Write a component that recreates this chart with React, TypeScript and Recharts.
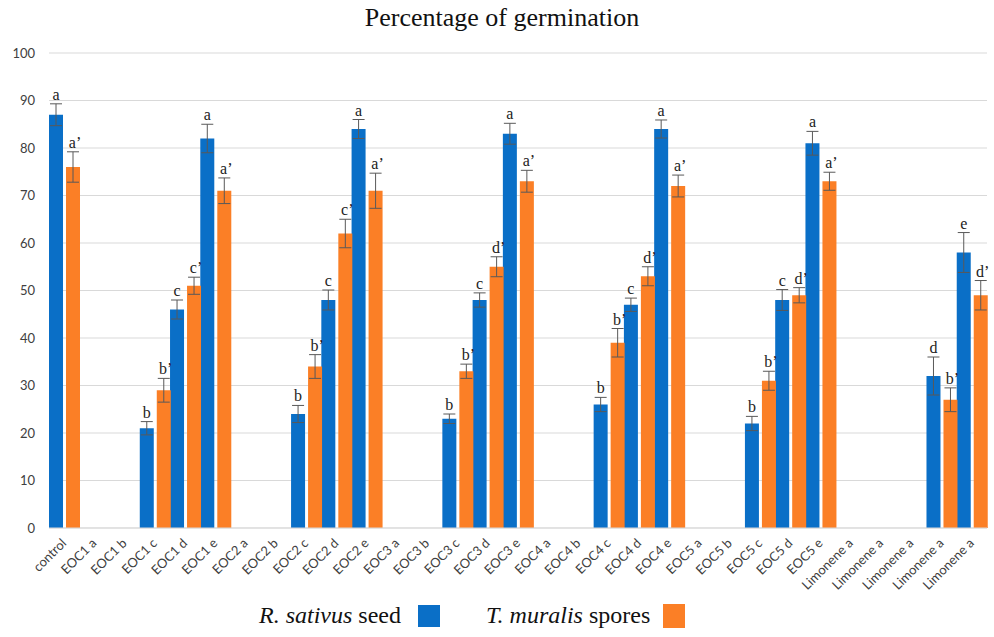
import React from 'react';
import { BarChart, Bar, XAxis, YAxis, CartesianGrid, ErrorBar, LabelList } from 'recharts';

const categories = [
  'control',
  'EOC1 a', 'EOC1 b', 'EOC1 c', 'EOC1 d', 'EOC1 e',
  'EOC2 a', 'EOC2 b', 'EOC2 c', 'EOC2 d', 'EOC2 e',
  'EOC3 a', 'EOC3 b', 'EOC3 c', 'EOC3 d', 'EOC3 e',
  'EOC4 a', 'EOC4 b', 'EOC4 c', 'EOC4 d', 'EOC4 e',
  'EOC5 a', 'EOC5 b', 'EOC5 c', 'EOC5 d', 'EOC5 e',
  'Limonene a', 'Limonene a', 'Limonene a', 'Limonene a', 'Limonene a',
];

// R. sativus seed
const sativusValues = [
  87, null, null, 21, 46, 82, null, null, 24, 48, 84, null, null, 23, 48, 83,
  null, null, 26, 47, 84, null, null, 22, 48, 81, null, null, null, 32, 58,
];
const sativusErrors = [
  2.3, null, null, 1.4, 2, 3, null, null, 1.8, 2.1, 2, null, null, 1, 1.5, 2.2,
  null, null, 1.5, 1.4, 1.9, null, null, 1.5, 2.2, 2.5, null, null, null, 4, 4.2,
];
const sativusLetters = [
  'a', '', '', 'b', 'c', 'a', '', '', 'b', 'c', 'a', '', '', 'b', 'c', 'a',
  '', '', 'b', 'c', 'a', '', '', 'b', 'c', 'a', '', '', '', 'd', 'e',
];

// T. muralis spores
const muralisValues = [
  76, null, null, 29, 51, 71, null, null, 34, 62, 71, null, null, 33, 55, 73,
  null, null, 39, 53, 72, null, null, 31, 49, 73, null, null, null, 27, 49,
];
const muralisErrors = [
  3.2, null, null, 2.5, 1.8, 2.7, null, null, 2.5, 3, 3.7, null, null, 1.5, 2.1, 2.3,
  null, null, 3, 2, 2.3, null, null, 2, 1.6, 1.9, null, null, null, 2.5, 3.1,
];
const muralisLetters = [
  "a'", '', '', "b'", "c'", "a'", '', '', "b'", "c'", "a'", '', '', "b'", "d'", "a'",
  '', '', "b'", "d'", "a'", '', '', "b'", "d'", "a'", '', '', '', "b'", "d'",
];

const yTicks = [0, 10, 20, 30, 40, 50, 60, 70, 80, 90, 100];

const BLUE = '#0a6fc7';
const ORANGE = '#fb7f26';

// plot area is 475px tall for 0..100
const PX_PER_UNIT = 4.75;

const data = categories.map((name, i) => ({
  i,
  name,
  sativus: sativusValues[i],
  sativusErr: sativusErrors[i],
  sativusTag: sativusLetters[i] ? `${sativusLetters[i]}|${sativusErrors[i] ?? 0}` : '',
  muralis: muralisValues[i],
  muralisErr: muralisErrors[i],
  muralisTag: muralisLetters[i] ? `${muralisLetters[i]}|${muralisErrors[i] ?? 0}` : '',
}));

const AngledTick = (props: any) => {
  const { x, y, payload } = props;
  const tx = x + 3;
  const ty = y + 14;
  return (
    <text
      x={tx}
      y={ty}
      transform={`rotate(-45 ${tx} ${ty})`}
      textAnchor="end"
      fill="#404040"
      fontSize={13}
      fontFamily="Lato, sans-serif"
    >
      {categories[payload.value]}
    </text>
  );
};

const renderLetter = (shift: number) => (props: any) => {
  const { x, y, width, value } = props;
  if (!value || typeof value !== 'string') return null;
  const [letter, err] = value.split('|');
  const top = Number(y) - Number(err) * PX_PER_UNIT;
  return (
    <text
      x={Number(x) + Number(width) / 2 + shift}
      y={top - 4}
      textAnchor="middle"
      fontSize={16}
      fontFamily="'Liberation Serif', serif"
      fill="#222"
    >
      {letter.replace("'", '\u2019')}
    </text>
  );
};

export default function App() {
  return (
    <div style={{ position: 'absolute', left: 0, top: 0, width: 994, height: 637, background: '#fff' }}>
      <div
        style={{
          position: 'absolute',
          left: 0,
          width: 1004,
          top: 3,
          textAlign: 'center',
          fontFamily: "'Liberation Serif', serif",
          fontSize: 26,
          color: '#111',
        }}
      >
        Percentage of germination
      </div>
      <BarChart
        width={994}
        height={637}
        data={data}
        margin={{ top: 53, right: 7, left: 9, bottom: 49 }}
        barCategoryGap={0}
        barGap={3}
      >
        <CartesianGrid vertical={false} stroke="#d9d9d9" />
        <XAxis
          dataKey="i"
          interval={0}
          height={60}
          axisLine={{ stroke: '#d9d9d9' }}
          tickLine={false}
          tickSize={0}
          tick={<AngledTick />}
        />
        <YAxis
          width={40}
          domain={[0, 100]}
          ticks={yTicks}
          axisLine={false}
          tickLine={false}
          tickSize={0}
          tickMargin={14}
          tick={{ fill: '#404040', fontSize: 13, fontFamily: 'Lato, sans-serif' }}
        />
        <Bar dataKey="sativus" fill={BLUE} isAnimationActive={false}>
          <ErrorBar dataKey="sativusErr" width={6} stroke="#595959" strokeWidth={1} direction="y" />
          <LabelList dataKey="sativusTag" content={renderLetter(0)} />
        </Bar>
        <Bar dataKey="muralis" fill={ORANGE} isAnimationActive={false}>
          <ErrorBar dataKey="muralisErr" width={6} stroke="#595959" strokeWidth={1} direction="y" />
          <LabelList dataKey="muralisTag" content={renderLetter(2)} />
        </Bar>
      </BarChart>
      <div
        style={{
          position: 'absolute',
          left: 259,
          top: 602,
          display: 'flex',
          alignItems: 'center',
          fontFamily: "'Liberation Serif', serif",
          fontSize: 24,
          color: '#111',
          whiteSpace: 'nowrap',
        }}
      >
        <span>
          <i>R. sativus</i> seed
        </span>
        <span style={{ display: 'inline-block', width: 22, height: 22, background: BLUE, marginLeft: 17 }} />
        <span style={{ marginLeft: 46 }}>
          <i>T. muralis</i> spores
        </span>
        <span style={{ display: 'inline-block', width: 22, height: 24, background: ORANGE, marginLeft: 13 }} />
      </div>
    </div>
  );
}
